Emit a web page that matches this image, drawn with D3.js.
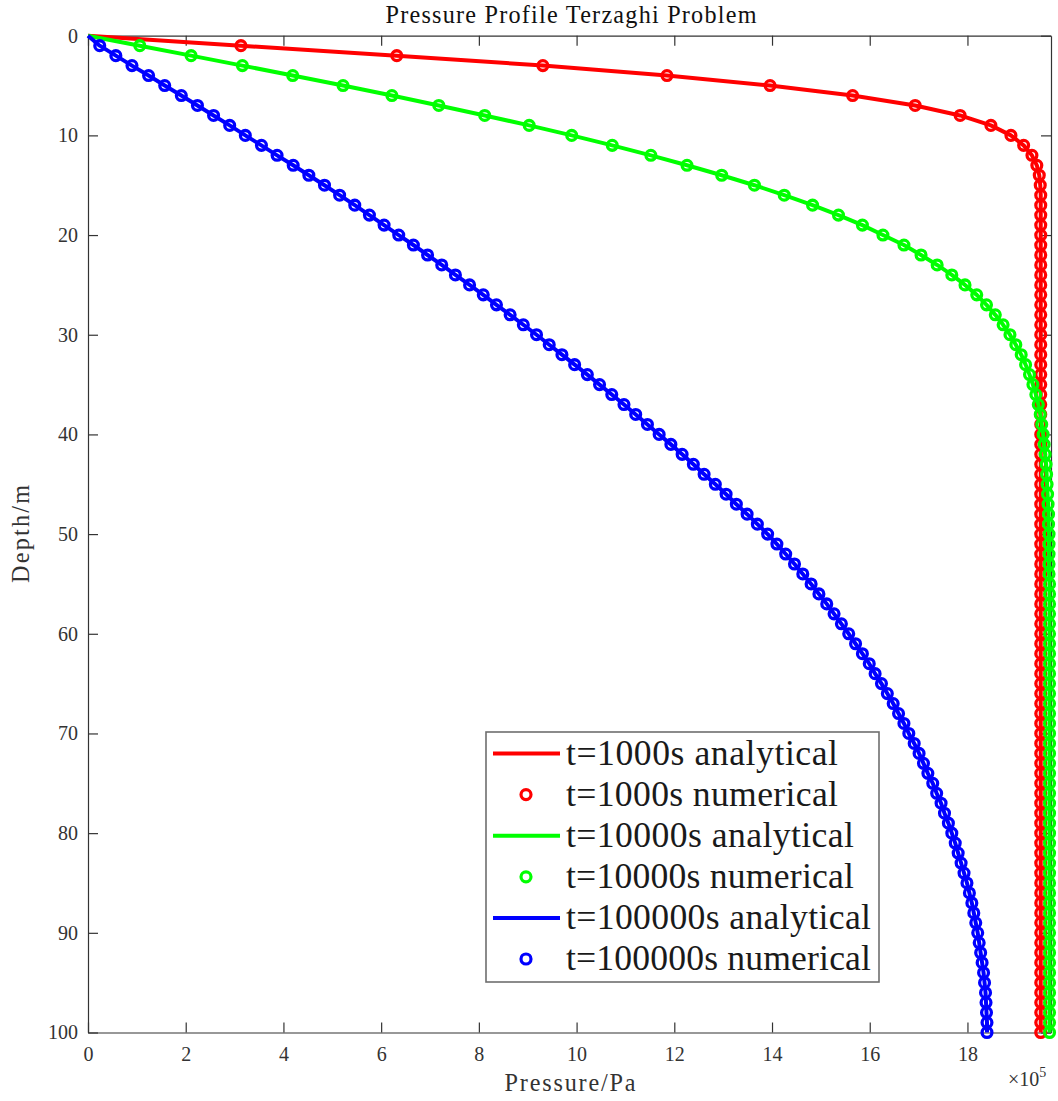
<!DOCTYPE html>
<html>
<head>
<meta charset="utf-8">
<script src="https://cdn.jsdelivr.net/npm/d3@7"></script>
<style>
  body { margin: 0; background: #fff; }
  svg text { font-family: "Liberation Serif", "DejaVu Serif", serif; }
</style>
</head>
<body>
<svg id="chart" width="1058" height="1101"></svg>
<script>
// Depth grid (m), 0 at the drained top surface
const depthM = [0,1,2,3,4,5,6,7,8,9,10,11,12,13,14,15,16,17,18,19,20,
  21,22,23,24,25,26,27,28,29,30,31,32,33,34,35,36,37,38,39,40,
  41,42,43,44,45,46,47,48,49,50,51,52,53,54,55,56,57,58,59,60,
  61,62,63,64,65,66,67,68,69,70,71,72,73,74,75,76,77,78,79,80,
  81,82,83,84,85,86,87,88,89,90,91,92,93,94,95,96,97,98,99,100];

// Pore pressure (x 1e5 Pa) at each depth, t = 1000 s
const p1000 = [0,3.13,6.32,9.31,11.85,13.96,15.65,16.93,17.85,18.48,18.89,
  19.15,19.32,19.42,19.47,19.49,19.50,19.50,19.50,19.50,19.50,
  19.50,19.50,19.50,19.50,19.50,19.50,19.50,19.50,19.50,19.50,
  19.50,19.50,19.50,19.50,19.50,19.50,19.50,19.50,19.50,19.50,
  19.50,19.50,19.50,19.50,19.50,19.50,19.50,19.50,19.50,19.50,
  19.50,19.50,19.50,19.50,19.50,19.50,19.50,19.50,19.50,19.50,
  19.50,19.50,19.50,19.50,19.50,19.50,19.50,19.50,19.50,19.50,
  19.50,19.50,19.50,19.50,19.50,19.50,19.50,19.50,19.50,19.50,
  19.50,19.50,19.50,19.50,19.50,19.50,19.50,19.50,19.50,19.50,
  19.50,19.50,19.50,19.50,19.50,19.50,19.50,19.50,19.50,19.50];

// t = 10000 s
const p10000 = [0,1.06,2.11,3.16,4.19,5.22,6.22,7.18,8.12,9.03,9.90,
  10.73,11.52,12.26,12.97,13.64,14.25,14.83,15.36,15.85,16.27,
  16.70,17.05,17.38,17.68,17.95,18.19,18.39,18.57,18.73,18.87,
  18.99,19.10,19.19,19.27,19.34,19.40,19.45,19.49,19.52,19.55,
  19.57,19.59,19.61,19.62,19.63,19.64,19.65,19.66,19.66,19.67,
  19.67,19.67,19.67,19.67,19.68,19.68,19.68,19.68,19.68,19.68,
  19.68,19.68,19.68,19.68,19.68,19.68,19.68,19.68,19.68,19.68,
  19.68,19.68,19.68,19.68,19.68,19.68,19.68,19.68,19.68,19.68,
  19.68,19.68,19.68,19.68,19.68,19.68,19.68,19.68,19.68,19.68,
  19.68,19.68,19.68,19.68,19.68,19.68,19.68,19.68,19.68,19.68];

// t = 100000 s
const p100000 = [0,0.24,0.57,0.90,1.24,1.57,1.91,2.24,2.57,2.90,3.22,
  3.55,3.87,4.20,4.52,4.84,5.15,5.46,5.76,6.06,6.36,
  6.66,6.95,7.24,7.52,7.81,8.09,8.36,8.64,8.91,9.18,
  9.44,9.70,9.96,10.22,10.47,10.72,10.97,11.21,11.45,11.69,
  11.93,12.16,12.39,12.61,12.84,13.06,13.27,13.49,13.70,13.91,
  14.10,14.28,14.46,14.63,14.80,14.96,15.12,15.27,15.42,15.57,
  15.71,15.85,15.99,16.11,16.24,16.36,16.48,16.59,16.70,16.80,
  16.91,17.01,17.10,17.19,17.29,17.37,17.46,17.53,17.61,17.68,
  17.75,17.81,17.87,17.93,17.99,18.04,18.09,18.13,18.17,18.21,
  18.24,18.27,18.30,18.33,18.35,18.37,18.38,18.39,18.40,18.40];

const seriesNames = ["t=1000s", "t=10000s", "t=100000s"];
const seriesValues = [p1000, p10000, p100000];
const seriesColors = ["#ff0000", "#00ff00", "#0000ff"];

const pressureLimit = 19.71;          // x axis upper limit (x 1e5 Pa)
const xTicks = [0,2,4,6,8,10,12,14,16,18];
const xTickLabels = ["0","2","4","6","8","10","12","14","16","18"];
const yTicks = [0,10,20,30,40,50,60,70,80,90,100];
const yTickLabels = ["0","10","20","30","40","50","60","70","80","90","100"];

const svg = d3.select("#chart");
const ink = "#333333";
const serif = '"Liberation Serif", "DejaVu Serif", serif';

const x = d3.scaleLinear().domain([0, pressureLimit]).range([88, 1051]);
const y = d3.scaleLinear().domain([0, 100]).range([35.7, 1032.5]);

// Size a text so it spans a given width, keeping glyph proportions within bounds
function fitText(t, target, base, lo, hi) {
  t.style("font-family", serif).style("font-size", base + "px");
  const w = t.node().getComputedTextLength();
  const s = Math.max(base * lo, Math.min(base * hi, base * target / w));
  t.style("font-size", s.toFixed(2) + "px")
    .attr("textLength", target).attr("lengthAdjust", "spacing");
}

// ---- axes box with inward ticks ----
function styleAxis(g) {
  g.attr("font-family", null).attr("font-size", null);
  g.select(".domain").attr("stroke", ink).attr("stroke-width", 1.2);
  g.selectAll(".tick line").attr("stroke", ink).attr("stroke-width", 1.2);
  g.selectAll(".tick text").attr("fill", ink)
    .style("font-family", serif).style("font-size", "20px");
}
svg.append("g").attr("transform", `translate(0,${y(100)})`)
  .call(d3.axisBottom(x).tickValues(xTicks).tickFormat((d, i) => xTickLabels[i])
    .tickSizeInner(-10).tickSizeOuter(0).tickPadding(14))
  .call(styleAxis);
svg.append("g").attr("transform", `translate(0,${y(0)})`)
  .call(d3.axisTop(x).tickValues(xTicks).tickFormat("")
    .tickSizeInner(-10).tickSizeOuter(0))
  .call(styleAxis);
svg.append("g").attr("transform", `translate(${x(0)},0)`)
  .call(d3.axisLeft(y).tickValues(yTicks).tickFormat((d, i) => yTickLabels[i])
    .tickSizeInner(-10).tickSizeOuter(0).tickPadding(10))
  .call(styleAxis);
svg.append("g").attr("transform", `translate(${x(pressureLimit)},0)`)
  .call(d3.axisRight(y).tickValues(yTicks).tickFormat("")
    .tickSizeInner(-10).tickSizeOuter(0))
  .call(styleAxis);

// ---- titles and labels ----
const title = svg.append("text").attr("x", 571).attr("y", 23).attr("text-anchor", "middle")
  .attr("fill", "#111").text("Pressure Profile Terzaghi Problem");
fitText(title, 371, 22, 0.85, 1.1);
const xLab = svg.append("text").attr("x", 570).attr("y", 1091).attr("text-anchor", "middle")
  .attr("fill", ink).text("Pressure/Pa");
fitText(xLab, 131, 22, 0.85, 1.1);
const yLab = svg.append("text").attr("transform", "translate(29,534) rotate(-90)")
  .attr("text-anchor", "middle").attr("fill", ink).text("Depth/m");
fitText(yLab, 98, 22, 0.85, 1.1);
const expo = svg.append("text").attr("x", 1008).attr("y", 1086)
  .attr("fill", ink).style("font-family", serif).style("font-size", "20px");
expo.append("tspan").text("×10");
expo.append("tspan").attr("dy", -9).style("font-size", "14px").text("5");

// ---- profiles: analytical line + numerical circles ----
const line = d3.line().x(d => x(d.p)).y(d => y(d.z));
seriesValues.forEach((vals, s) => {
  const pts = depthM.map((z, i) => ({ z, p: vals[i] }));
  svg.append("path").datum(pts)
    .attr("d", line).attr("fill", "none")
    .attr("stroke", seriesColors[s]).attr("stroke-width", 4)
    .attr("stroke-linejoin", "round");
  svg.append("g").selectAll("circle").data(pts.filter(d => d.z > 0)).join("circle")
    .attr("cx", d => x(d.p)).attr("cy", d => y(d.z)).attr("r", 4.9)
    .attr("fill", "none").attr("stroke", seriesColors[s]).attr("stroke-width", 3.3);
});

// ---- legend ----
const legendRows = [];
seriesNames.forEach((n, s) => {
  legendRows.push({ label: n + " analytical", color: seriesColors[s], kind: "line" });
  legendRows.push({ label: n + " numerical", color: seriesColors[s], kind: "marker" });
});
const legendWidths = [272, 272, 288, 288, 305, 305];
const lg = svg.append("g");
lg.append("rect").attr("x", 486).attr("y", 732).attr("width", 393).attr("height", 250)
  .attr("fill", "#fff").attr("stroke", "#6e6e6e").attr("stroke-width", 1.6);
const rowY = d3.scaleLinear().domain([0, 5]).range([753.5, 959]);
legendRows.forEach((r, i) => {
  const yy = rowY(i);
  if (r.kind === "line") {
    lg.append("line").attr("x1", 493).attr("x2", 560).attr("y1", yy).attr("y2", yy)
      .attr("stroke", r.color).attr("stroke-width", 4);
  } else {
    lg.append("circle").attr("cx", 526).attr("cy", yy).attr("r", 5)
      .attr("fill", "none").attr("stroke", r.color).attr("stroke-width", 3.2);
  }
  const t = lg.append("text").attr("x", 566).attr("y", yy + 11).attr("fill", "#1a1a1a")
    .text(r.label);
  fitText(t, legendWidths[i], 33, 0.8, 1.08);
});
</script>
</body>
</html>
